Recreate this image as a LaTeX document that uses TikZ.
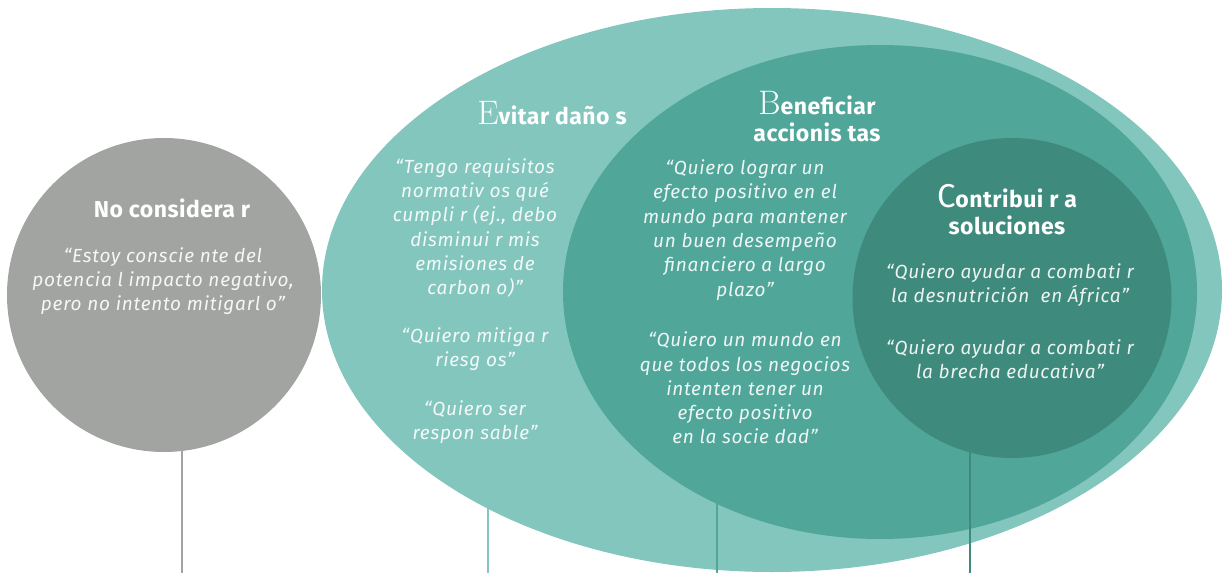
\documentclass[tikz,border=0pt]{standalone}
\usepackage{fontspec}
\usetikzlibrary{shapes.geometric}
\newfontfamily\headfont{Fira Sans}[LetterSpace=2]
\newfontfamily\quotefont{Fira Sans}[LetterSpace=4]
\newfontfamily\capfont{Fira Sans}
\definecolor{noconsc}{HTML}{A1A4A1}
\definecolor{evitarc}{HTML}{82C6BE}
\definecolor{beneficc}{HTML}{50A699}
\definecolor{contribc}{HTML}{3E8A7C}
\tikzset{zone/.style={ellipse,inner sep=0pt,draw=none}}
\tikzset{stem/.style={line width=2pt}}
\tikzset{head/.style={text=white,align=center,font=\headfont\bfseries\fontsize{23}{27}\selectfont}}
\tikzset{quote/.style={text=white,text opacity=0.9,align=center,font=\quotefont\itshape\fontsize{19}{24.3}\selectfont}}
\newcommand\serifcap[1]{{\rmfamily\mdseries\fontsize{34}{27}\selectfont #1}}

\begin{document}
\begin{tikzpicture}[x=1pt,y=-1pt]
  \useasboundingbox (0,0) rectangle (1224,573);
  % Centres and feet
  \coordinate (nocenter) at (164,295);
  \coordinate (evcenter) at (772,290);
  \coordinate (becenter) at (880,292);
  \coordinate (cocenter) at (1012,298);
  \coordinate (nofoot) at (182,573);
  \coordinate (evfoot) at (488,573);
  \coordinate (befoot) at (717,573);
  \coordinate (cofoot) at (970,573);

  % Shapes, each stem below its own shape
  \draw[stem,noconsc] (nofoot) -- (nofoot |- nocenter);
  \node[zone,fill=noconsc,minimum width=314pt,minimum height=314pt] (nocons) at (nocenter) {};
  \draw[stem,evitarc] (evfoot) -- (evfoot |- evcenter);
  \node[zone,fill=evitarc,minimum width=900pt,minimum height=564pt] (evitar) at (evcenter) {};
  \draw[stem,beneficc] (befoot) -- (befoot |- becenter);
  \node[zone,fill=beneficc,minimum width=634pt,minimum height=494pt] (benef) at (becenter) {};
  \draw[stem,contribc] (cofoot) -- (cofoot |- cocenter);
  \node[zone,fill=contribc,minimum width=319pt,minimum height=320pt] (contrib) at (cocenter) {};

  % Titles
  \node[head] (notitle) at (172,208) {No considera r};
  \node[head] (evtitle) at (552,113) {\serifcap{E}vitar daño s};
  \node[head] (betitle) at (817,117) {\serifcap{B}eneficiar\\accionis tas};
  \node[head] (cotitle) at (1007,210) {{\capfont\mdseries\fontsize{33}{27}\selectfont C}ontribui r a\\soluciones};

  % Quotes
  \node[quote] (noq) at (163,281) {“Estoy conscie nte del\\potencia l impacto negativo,\\pero no intento mitigarl o”};
  \node[quote] (evq1) at (475,228) {“Tengo requisitos\\normativ os qué\\cumpli r (ej., debo\\disminui r mis\\emisiones de\\carbon o)”};
  \node[quote] (evq2) at (475,349) {“Quiero mitiga r\\riesg os”};
  \node[quote] (evq3) at (475,422) {“Quiero ser\\respon sable”};
  \node[quote] (beq1) at (745,230) {“Quiero lograr un\\efecto positivo en el\\mundo para mantener\\un buen desempeño\\financiero a largo\\plazo”};
  \node[quote] (beq2) at (745,388) {“Quiero un mundo en\\que todos los negocios\\intenten tener un\\efecto positivo\\en la socie dad”};
  \node[quote] (coq1) at (1010,285) {“Quiero ayudar a combati r\\la desnutrición \ en África”};
  \node[quote] (coq2) at (1010,359) {“Quiero ayudar a combati r\\la brecha educativa”};
\end{tikzpicture}
\end{document}
